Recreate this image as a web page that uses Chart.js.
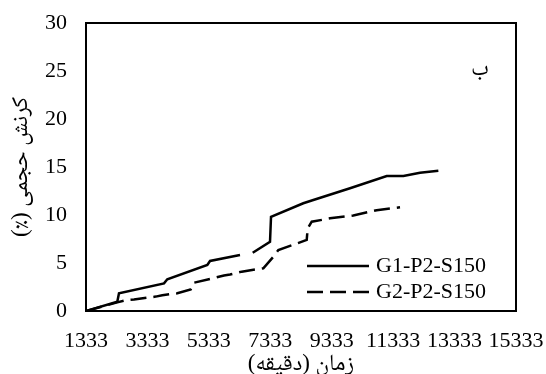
<!DOCTYPE html>
<html>
<head>
<meta charset="utf-8">
<script src="https://cdn.jsdelivr.net/npm/chart.js@4.4.1/dist/chart.umd.min.js"></script>
<style>
  html, body { margin: 0; padding: 0; background: #fff; }
  canvas { display: block; }
</style>
</head>
<body>
<canvas id="chart" width="546" height="374"></canvas>
<script>
// Volumetric strain over time for two specimens
const seriesNames = ['G1-P2-S150', 'G2-P2-S150'];

const g1Time   = [1333, 2352, 2407, 3873, 3980, 5283, 5371, 6347, 6550, 6761, 7324, 7357, 8408, 8734, 9929, 11124, 11667, 12208, 12805];
const g1Strain = [0, 0.97, 1.84, 2.88, 3.3, 4.79, 5.21, 5.83, null, 6.07, 7.22, 9.82, 11.22, 11.56, 12.78, 14.06, 14.06, 14.4, 14.6];

const g2Time   = [1333, 2352, 2678, 2896, 3602, 3817, 4306, 4742, 4850, 5446, 5826, 6022, 6403, 7107, 7433, 7596, 8519, 8550, 8682, 9278, 10036, 10797, 11557];
const g2Strain = [0, 0.9, 1.15, 1.2, 1.5, 1.65, 1.85, 2.25, 2.95, 3.4, 3.7, 3.8, 4.1, 4.45, 5.65, 6.35, 7.4, 8.6, 9.3, 9.65, 9.95, 10.5, 10.8];

const xTicks = [1333, 3333, 5333, 7333, 9333, 11333, 13333, 15333];
const yTicks = [0, 5, 10, 15, 20, 25, 30];

const panelLabel = 'ب';
const RLM = '\u200F';
const xTitle = RLM + 'زمان (دقیقه)' + RLM;
const yTitle = RLM + 'کرنش حجمی (٪)' + RLM;

const FONT = "'Liberation Serif', 'Times New Roman', 'DejaVu Serif', serif";
const FONT_FA = "'Liberation Serif', 'Noto Naskh Arabic', 'Noto Sans Arabic', 'DejaVu Sans', serif";

const toPoints = (xs, ys) => xs.map((x, i) => ({ x: x, y: ys[i] }));

// Keep the plot box fixed: tick labels may overhang the edges
const noOverhang = s => {
  s.paddingLeft = 0; s.paddingRight = 0;
  s.paddingTop = 0; s.paddingBottom = 0;
};

// Plot frame, in-plot legend and panel letter
const decor = {
  id: 'decor',
  afterDatasetsDraw(chart) {
    const { ctx, chartArea: a } = chart;
    ctx.save();
    ctx.strokeStyle = '#000';
    ctx.lineWidth = 2;
    ctx.setLineDash([]);
    ctx.strokeRect(a.left, a.top, a.right - a.left, a.bottom - a.top);

    const rows = [a.bottom - 45, a.bottom - 19];
    chart.data.datasets.forEach((ds, i) => {
      const y = rows[i];
      ctx.beginPath();
      ctx.lineWidth = ds.borderWidth;
      ctx.lineCap = 'butt';
      ctx.setLineDash(ds.borderDash || []);
      ctx.moveTo(a.left + 221, y);
      ctx.lineTo(a.left + 283, y);
      ctx.stroke();
      ctx.setLineDash([]);
      ctx.fillStyle = '#000';
      ctx.font = '22px ' + FONT;
      ctx.textAlign = 'left';
      ctx.textBaseline = 'middle';
      ctx.fillText(ds.label, a.left + 290, y);
    });

    ctx.font = '23px ' + FONT_FA;
    ctx.textAlign = 'center';
    ctx.textBaseline = 'middle';
    ctx.fillText(panelLabel, a.right - 36, a.top + 46);
    ctx.restore();
  }
};

new Chart(document.getElementById('chart'), {
  type: 'line',
  data: {
    datasets: [
      {
        label: seriesNames[0],
        data: toPoints(g1Time, g1Strain),
        borderColor: '#000',
        borderWidth: 2.5,
        pointRadius: 0,
        tension: 0,
        spanGaps: false,
        fill: false
      },
      {
        label: seriesNames[1],
        data: toPoints(g2Time, g2Strain),
        borderColor: '#000',
        borderWidth: 2.5,
        borderDash: [16, 7],
        pointRadius: 0,
        tension: 0,
        fill: false
      }
    ]
  },
  options: {
    responsive: false,
    animation: false,
    events: [],
    layout: { padding: { top: 23, right: 30, bottom: 0, left: 0 } },
    font: { family: FONT },
    plugins: {
      legend: { display: false },
      tooltip: { enabled: false }
    },
    scales: {
      x: {
        type: 'linear',
        min: 1333,
        max: 15333,
        afterBuildTicks: s => { s.ticks = xTicks.map(v => ({ value: v })); },
        afterFit: s => { s.height = 63; noOverhang(s); },
        grid: { display: false, drawTicks: false },
        border: { display: false },
        ticks: {
          color: '#000',
          padding: 17,
          maxRotation: 0,
          autoSkip: false,
          font: { family: FONT, size: 22 },
          callback: v => String(v)
        },
        title: {
          display: true,
          text: xTitle,
          color: '#000',
          padding: { top: 0, bottom: -4 },
          font: { family: FONT_FA, size: 23 }
        }
      },
      y: {
        min: 0,
        max: 30,
        afterBuildTicks: s => { s.ticks = yTicks.map(v => ({ value: v })); },
        afterFit: s => { s.width = 86; noOverhang(s); },
        grid: { display: false, drawTicks: false },
        border: { display: false },
        ticks: {
          color: '#000',
          padding: 19,
          font: { family: FONT, size: 22 },
          callback: v => String(v)
        },
        title: {
          display: true,
          text: yTitle,
          color: '#000',
          padding: { top: 7, bottom: 0 },
          font: { family: FONT_FA, size: 23 }
        }
      }
    }
  },
  plugins: [decor]
});
</script>
</body>
</html>
